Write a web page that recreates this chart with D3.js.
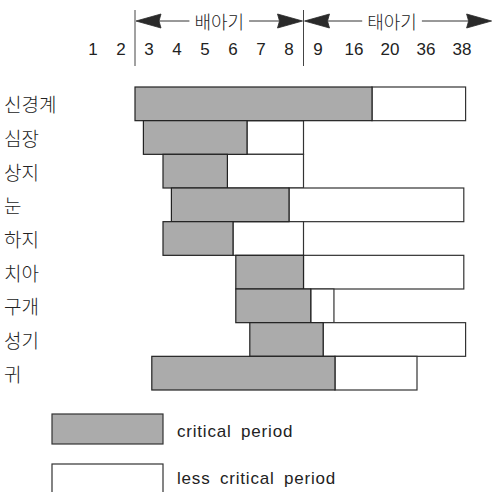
<!DOCTYPE html>
<html>
<head>
<meta charset="utf-8">
<script src="https://cdn.jsdelivr.net/npm/d3@7"></script>
<style>
  body { margin: 0; background: #fff; }
  svg { display: block; }
  .lbl { font-family: "Noto Sans CJK KR", sans-serif; font-weight: 300; fill: #222; }
  .num { font-family: "Liberation Sans", sans-serif; fill: #222; }
</style>
</head>
<body>
<svg></svg>
<script>
let width = 498;
let height = 492;

// 주(week) 눈금
let weeks = [1, 2, 3, 4, 5, 6, 7, 8, 9, 16, 20, 36, 38];
let organs = ["신경계", "심장", "상지", "눈", "하지", "치아", "구개", "성기", "귀"];
let critStart = [2.5, 2.8, 3.5, 3.8, 3.5, 6.1, 6.1, 6.6, 3.1];
let critEnd = [18, 6.5, 5.8, 8, 6, 8.5, 8.75, 10, 12.3];
let lessEnd = [38.2, 8.5, 8.5, 38.1, 8.5, 38.1, 12.1, 38.2, 32];
let periods = ["배아기", "태아기"];
let periodFrom = [2.5, 8.5];
let periodTo = [8.5, 39.7];
let legendLabels = ["critical period", "less critical period"];

let grayFill = "#ababab";

let svg = d3.select("svg")
    .attr("width", width)
    .attr("height", height);

// 주 -> 눈금 번호 -> 화면 위치 (배아기와 태아기 칸 간격이 다름)
let weekIndex = d3.scaleLinear()
    .domain(weeks)
    .range(weeks.map((d, i) => i));
let indexPos = d3.scaleLinear()
    .domain([0, 7, 8, 12])
    .range([93, 289, 318, 462]);
let x = w => indexPos(weekIndex(w));

let y = d3.scaleBand()
    .domain(organs)
    .range([87, 390])
    .padding(0);

// 눈금 숫자
svg.append("g")
    .selectAll("text")
    .data(weeks)
    .enter()
    .append("text")
    .attr("class", "num")
    .attr("x", d => x(d))
    .attr("y", 49)
    .attr("text-anchor", "middle")
    .attr("dominant-baseline", "central")
    .style("font-size", "17px")
    .text(d => d);

// 구분선
svg.append("g")
    .selectAll("line")
    .data([periodFrom[0], periodFrom[1]])
    .enter()
    .append("line")
    .attr("x1", d => x(d))
    .attr("x2", d => x(d))
    .attr("y1", 10)
    .attr("y2", 66)
    .attr("stroke", "#444")
    .attr("stroke-width", 1);

// 기간 화살표
let arrowY = 21;
periods.forEach(function (p, i) {
    let x0 = x(periodFrom[i]) + 1;
    let x1 = x(periodTo[i]) - 1;
    let g = svg.append("g");
    let txt = g.append("text")
        .attr("class", "lbl")
        .attr("x", (x0 + x1) / 2 + (i === 1 ? -6 : 0))
        .attr("y", arrowY)
        .attr("text-anchor", "middle")
        .attr("dominant-baseline", "central")
        .style("font-size", "18px")
        .text(p);
    let tw = txt.node().getComputedTextLength();
    let cx = +txt.attr("x");
    let head = 25;
    g.append("path")
        .attr("d", `M${x0},${arrowY} L${x0 + head},${arrowY - 7} L${x0 + head - 2},${arrowY} L${x0 + head},${arrowY + 7} Z`)
        .attr("fill", "#2a2a2a")
        .attr("stroke", "#2a2a2a")
        .attr("stroke-width", 0.8);
    g.append("path")
        .attr("d", `M${x1},${arrowY} L${x1 - head},${arrowY - 7} L${x1 - head + 2},${arrowY} L${x1 - head},${arrowY + 7} Z`)
        .attr("fill", "#2a2a2a")
        .attr("stroke", "#2a2a2a")
        .attr("stroke-width", 0.8);
    g.append("line")
        .attr("x1", x0 + head - 2).attr("x2", cx - tw / 2 - 5)
        .attr("y1", arrowY).attr("y2", arrowY)
        .attr("stroke", "#333");
    g.append("line")
        .attr("x1", cx + tw / 2 + 5).attr("x2", x1 - head + 2)
        .attr("y1", arrowY).attr("y2", arrowY)
        .attr("stroke", "#333");
});

// 기관 이름
svg.append("g")
    .selectAll("text")
    .data(organs)
    .enter()
    .append("text")
    .attr("class", "lbl")
    .attr("x", 4)
    .attr("y", d => y(d) + y.bandwidth() / 2)
    .attr("dominant-baseline", "central")
    .style("font-size", "19px")
    .text(d => d);

// 덜 중요한 기간 (흰 막대)
svg.append("g")
    .selectAll("rect")
    .data(organs)
    .enter()
    .append("rect")
    .attr("x", (d, i) => x(critEnd[i]))
    .attr("width", (d, i) => x(lessEnd[i]) - x(critEnd[i]))
    .attr("y", d => y(d))
    .attr("height", y.bandwidth())
    .attr("fill", "#fff")
    .attr("stroke", "#333")
    .attr("stroke-width", 1.2);

// 결정적 시기 (회색 막대)
svg.append("g")
    .selectAll("rect")
    .data(organs)
    .enter()
    .append("rect")
    .attr("x", (d, i) => x(critStart[i]))
    .attr("width", (d, i) => x(critEnd[i]) - x(critStart[i]))
    .attr("y", d => y(d))
    .attr("height", y.bandwidth())
    .attr("fill", grayFill)
    .attr("stroke", "#222")
    .attr("stroke-width", 1.2);

// 범례
let legend = svg.append("g")
    .selectAll("g")
    .data(legendLabels)
    .enter()
    .append("g")
    .attr("transform", (d, i) => `translate(52, ${414 + i * 50})`);

legend.append("rect")
    .attr("width", 111)
    .attr("height", 30)
    .attr("fill", (d, i) => i === 0 ? grayFill : "#fff")
    .attr("stroke", "#333")
    .attr("stroke-width", 1.2);

legend.append("text")
    .attr("class", "num")
    .attr("x", 125)
    .attr("y", (d, i) => i === 0 ? 17 : 14)
    .attr("dominant-baseline", "central")
    .style("font-size", "17px")
    .style("letter-spacing", "0.8px")
    .style("word-spacing", "4px")
    .text(d => d);
</script>
</body>
</html>
